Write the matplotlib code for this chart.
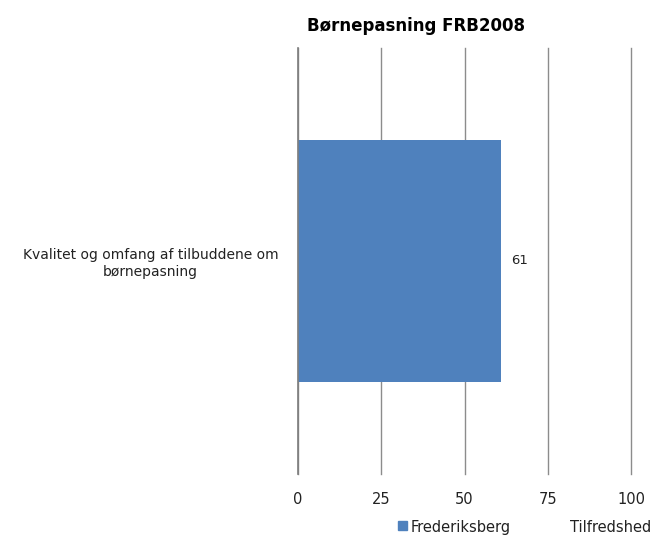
import matplotlib.pyplot as plt

# data
categories = ["Kvalitet og omfang af tilbuddene om\nbørnepasning"]
values = [61]
series_name = "Frederiksberg"
x_ticks = [0, 25, 50, 75, 100]
title = "Børnepasning FRB2008"
axis_title = "Tilfredshed"

bar_color = "#4f81bd"

fig = plt.figure(figsize=(6.68, 5.38), dpi=100)
ax = fig.add_axes([0.446, 0.119, 0.499, 0.792])

bars = ax.barh(range(len(categories)), values, height=0.566, color=bar_color, zorder=2)
ax.set_ylim(-0.5, 0.5)
ax.set_xlim(0, 100)
ax.set_xticks(x_ticks)
ax.set_xticklabels([str(t) for t in x_ticks], fontsize=10.5, color="#222222")
ax.set_yticks(range(len(categories)))
ax.set_yticklabels(categories, fontsize=10, multialignment="center", color="#222222")
ax.tick_params(axis="x", length=0, pad=13)
ax.tick_params(axis="y", length=0, pad=14)

ax.grid(axis="x", color="#8c8c8c", linewidth=1, zorder=0)
for gl in ax.get_xgridlines():
    gl.set_clip_on(False)
for s in ["top", "right", "bottom"]:
    ax.spines[s].set_visible(False)
ax.spines["left"].set_color("#7f7f7f")
ax.spines["left"].set_linewidth(1.2)

for b, v in zip(bars, values):
    ax.text(v + 3, b.get_y() + b.get_height() / 2, str(v), va="center", ha="left",
            fontsize=9.5, color="#222222")

fig.text(0.623, 0.951, title, ha="center", va="center", fontsize=12, fontweight="bold")

# legend and axis title at the bottom
fig.patches.append(plt.Rectangle((398 / 668, 0.014), 9 / 668, 9 / 538,
                                 transform=fig.transFigure, color=bar_color))
fig.text(411 / 668, 0.006, series_name, ha="left", va="bottom", fontsize=10.5, color="#222222")
fig.text(570 / 668, 0.006, axis_title, ha="left", va="bottom", fontsize=10.5, color="#222222")

fig.savefig("out.png", dpi=100)
